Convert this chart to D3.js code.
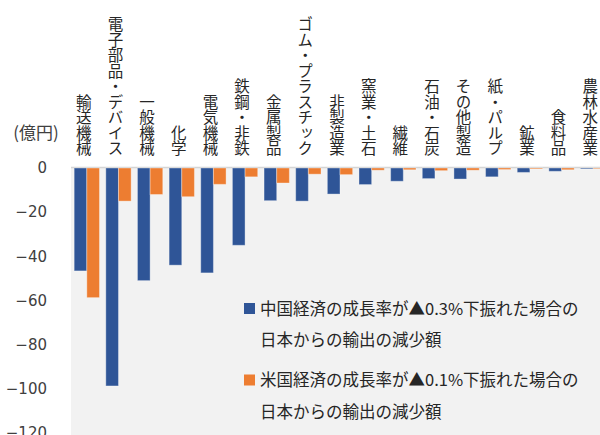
<!DOCTYPE html>
<html>
<head>
<meta charset="utf-8">
<script src="https://cdn.jsdelivr.net/npm/d3@7"></script>
<style>
  body { margin: 0; background: #fff; }
  svg { display: block; }
</style>
</head>
<body>
<svg width="600" height="435"></svg>
<script>
const categories = ['輸送機械', '電子部品・デバイス', '一般機械', '化学', '電気機械', '鉄鋼・非鉄', '金属製品',
    'ゴム・プラスチック', '非製造業', '窯業・土石', '繊維', '石油・石炭', 'その他製造', '紙・パルプ', '鉱業', '食料品', '農林水産業']
const chinaValues = [-46.6, -98.7, -51, -44, -47.5, -35, -14.8, -15, -11.8, -7.5, -6, -4.8, -5, -4, -2, -1.5, -0.4]
const usValues = [-58.7, -15, -12, -13, -7.4, -4, -6.8, -2.8, -3, -1, -0.8, -1.2, -1, -0.7, -0.4, -0.8, -0.3]
const yTicks = [0, -20, -40, -60, -80, -100, -120]
const seriesNames = ['中国経済の成長率が▲0.3%下振れた場合の', '米国経済の成長率が▲0.1%下振れた場合の']
const seriesSub = '日本からの輸出の減少額'
const unitLabel = '(億円)'

const colors = ['#2f5597', '#ed7d31']
const cjk = '"Noto Sans CJK JP", "Noto Sans", sans-serif'
const dim = {width: 600, height: 435, margin: {top: 168, right: -9, bottom: 2, left: 71}}

const svg = d3.select('svg')

const x = d3.scaleBand()
    .domain(categories)
    .range([dim.margin.left, dim.width - dim.margin.right])
    .paddingInner(0.2)
    .paddingOuter(0.1)
const sub = d3.scaleBand()
    .domain([0, 1])
    .range([0, x.bandwidth()])
const y = d3.scaleLinear()
    .domain([-120, 0])
    .range([dim.height - dim.margin.bottom, dim.margin.top])

// plot background
svg.append('rect')
    .attr('x', dim.margin.left)
    .attr('y', y(0) - 1)
    .attr('width', dim.width - dim.margin.left)
    .attr('height', dim.height - y(0) + 1)
    .attr('fill', '#f2f2f2')

svg.append('line')
    .attr('x1', dim.margin.left).attr('x2', dim.width)
    .attr('y1', y(0) - 0.5).attr('y2', y(0) - 0.5)
    .attr('stroke', '#d4d4d4')
    .attr('stroke-width', 1.5)

// y axis
const yAxis = d3.axisLeft(y).tickValues(yTicks).tickSize(0).tickPadding(0)
const ya = svg.append('g')
    .attr('class', 'y-axis')
    .attr('transform', 'translate(47, 0)')
    .call(yAxis)
ya.select('.domain').remove()
ya.selectAll('text')
    .attr('font-family', '"DejaVu Sans", Verdana, sans-serif')
    .attr('font-size', 15)
    .attr('fill', '#404040')

svg.append('text')
    .attr('x', 36).attr('y', 131)
    .attr('text-anchor', 'middle')
    .attr('dominant-baseline', 'central')
    .attr('font-family', cjk)
    .attr('font-size', 17)
    .attr('fill', '#404040')
    .text(unitLabel)

// bars
const series = [chinaValues, usValues]
series.forEach((vals, si) => {
    svg.append('g')
        .selectAll('rect')
        .data(vals)
        .join('rect')
        .attr('x', (d, i) => x(categories[i]) + sub(si))
        .attr('y', y(0))
        .attr('width', sub.bandwidth())
        .attr('height', d => y(d) - y(0))
        .attr('fill', colors[si])
        .attr('stroke', '#ffffff')
        .attr('stroke-opacity', 0.35)
        .attr('stroke-width', 1)
})

// vertical category labels
svg.append('g')
    .selectAll('text')
    .data(categories)
    .join('text')
    .attr('x', c => x(c) + x.bandwidth() / 2 - 3)
    .attr('y', 156)
    .attr('writing-mode', 'vertical-rl')
    .attr('text-anchor', 'end')
    .attr('font-family', cjk)
    .attr('font-size', 15.5)
    .attr('fill', '#262626')
    .text(c => c)

// legend
const legendRows = [307.5, 379]
legendRows.forEach((ly, i) => {
    svg.append('rect')
        .attr('x', 244).attr('y', ly - 4.5)
        .attr('width', 11).attr('height', 11)
        .attr('fill', colors[i])
    svg.append('text')
        .attr('x', 260).attr('y', ly)
        .attr('dominant-baseline', 'central')
        .attr('font-family', cjk)
        .attr('font-size', 16.5)
        .attr('fill', '#262626')
        .text(seriesNames[i])
    svg.append('text')
        .attr('x', 260).attr('y', ly + 31.5)
        .attr('dominant-baseline', 'central')
        .attr('font-family', cjk)
        .attr('font-size', 16.5)
        .attr('fill', '#262626')
        .text(seriesSub)
})
</script>
</body>
</html>
